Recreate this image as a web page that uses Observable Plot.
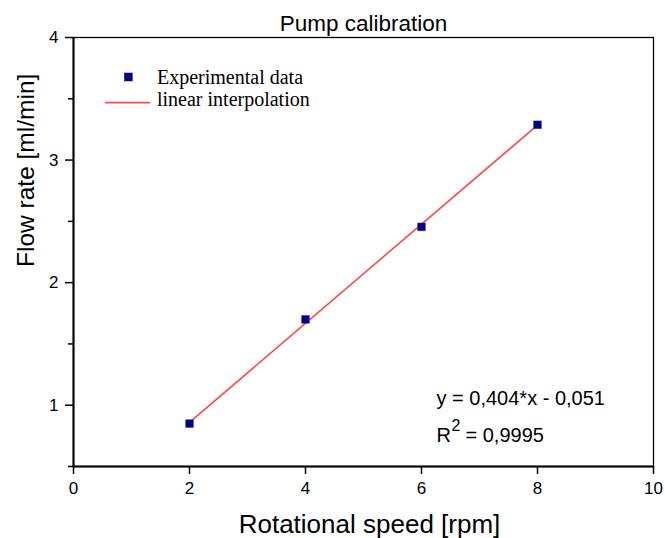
<!DOCTYPE html>
<html><head><meta charset="utf-8">
<script src="https://cdn.jsdelivr.net/npm/d3@7"></script>
<script src="https://cdn.jsdelivr.net/npm/@observablehq/plot@0.6"></script>
<style>
body{margin:0;background:#fff;}
#chart svg{font-family:"Liberation Sans",Arial,sans-serif;}
</style>
</head><body><div id="chart"></div>
<script>
// ---- data ----
const speed = [2, 4, 6, 8];
const flow = [0.85, 1.70, 2.455, 3.288];
const fitX = [2, 8];
const fitY = [0.86, 3.285];
const xTicks = [0, 2, 4, 6, 8, 10];
const yTicks = [1, 2, 3, 4];
const yMinorTicks = [0.5, 1.5, 2.5, 3.5];
const title = "Pump calibration";
const xLabel = "Rotational speed [rpm]";
const yLabel = "Flow rate [ml/min]";
const legendLabels = ["Experimental data", "linear interpolation"];
const equation = "y = 0,404*x - 0,051";
const r2Parts = ["R", "2", "= 0,9995"];

const points = speed.map((s, i) => ({x: s, y: flow[i]}));
const fit = fitX.map((s, i) => ({x: s, y: fitY[i]}));
const markerColor = "#000080";
const markerStroke = "#2020a0";
const lineColor = "#ff4848";

function legend(index, scales, values, dims) {
  const g = d3.create("svg:g");
  const x0 = dims.marginLeft, y0 = dims.marginTop;
  g.append("rect")
    .attr("x", x0 + 51.3).attr("y", y0 + 36).attr("width", 8).attr("height", 8)
    .attr("fill", markerColor).attr("stroke", markerStroke).attr("stroke-width", 0.6);
  g.append("line")
    .attr("x1", x0 + 32).attr("x2", x0 + 77).attr("y1", y0 + 65.6).attr("y2", y0 + 65.6)
    .attr("stroke", lineColor).attr("stroke-width", 1.6);
  g.selectAll("text").data(legendLabels).join("text")
    .attr("x", x0 + 84)
    .attr("y", (d, i) => y0 + 47.3 + i * 22)
    .attr("text-anchor", "start")
    .attr("font-family", "'Liberation Serif','Times New Roman',serif")
    .attr("font-size", 20)
    .attr("fill", "black")
    .text(d => d);
  return g.node();
}

const chart = Plot.plot({
  width: 665,
  height: 538,
  marginLeft: 73,
  marginRight: 12,
  marginTop: 37,
  marginBottom: 72,
  style: {fontFamily: "'Liberation Sans',Arial,sans-serif", fontSize: "17px", color: "black", background: "white"},
  x: {domain: [0, 10]},
  y: {domain: [0.5, 4]},
  marks: [
    Plot.frame({stroke: "black", strokeWidth: 1.3}),
    Plot.axisX({ticks: xTicks, tickSize: 8, tickPadding: 7, fontSize: 17, strokeWidth: 1.5, tickFormat: d => String(d), label: null}),
    Plot.axisY({ticks: yTicks, tickSize: 8, tickPadding: 7, fontSize: 17, strokeWidth: 1.5, tickFormat: d => String(d), label: null}),
    Plot.axisY({ticks: yMinorTicks, tickSize: 5, strokeWidth: 1.5, tickFormat: () => "", label: null}),
    Plot.ruleX([0], {strokeWidth: 2}),
    Plot.ruleY([0.5], {strokeWidth: 2}),
    Plot.line(fit, {x: "x", y: "y", stroke: lineColor, strokeWidth: 1.6}),
    Plot.dot(points, {x: "x", y: "y", symbol: "square", r: 4.3, fill: markerColor, stroke: markerStroke, strokeWidth: 0.6}),
    Plot.text([title], {text: d => d, frameAnchor: "top", dy: -7, lineAnchor: "bottom", fontSize: 22.5}),
    Plot.text([xLabel], {text: d => d, frameAnchor: "bottom", dx: 6, dy: 66, lineAnchor: "bottom", fontSize: 26}),
    Plot.text([yLabel], {text: d => d, frameAnchor: "left", rotate: -90, dx: -40, dy: 15, lineAnchor: "bottom", fontSize: 24.5}),
    Plot.text([equation], {text: d => d, frameAnchor: "bottom-left", dx: 363, dy: -62, textAnchor: "start", lineAnchor: "bottom", fontSize: 20}),
    Plot.text([r2Parts[0]], {text: d => d, frameAnchor: "bottom-left", dx: 363, dy: -25, textAnchor: "start", lineAnchor: "bottom", fontSize: 20}),
    Plot.text([r2Parts[1]], {text: d => d, frameAnchor: "bottom-left", dx: 378, dy: -36, textAnchor: "start", lineAnchor: "bottom", fontSize: 16}),
    Plot.text([r2Parts[2]], {text: d => d, frameAnchor: "bottom-left", dx: 392, dy: -25, textAnchor: "start", lineAnchor: "bottom", fontSize: 20}),
    legend
  ]
});
document.getElementById("chart").append(chart);
</script>
</body></html>
